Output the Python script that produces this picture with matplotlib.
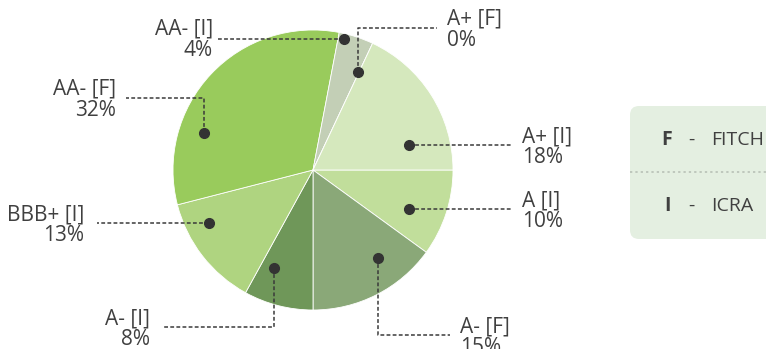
import matplotlib.pyplot as plt
from matplotlib.patches import FancyBboxPatch

W, H = 766, 349

# Slice data, clockwise from 3 o'clock
labels = ["A [I]", "A- [F]", "A- [I]", "BBB+ [I]", "AA- [F]", "AA- [I]", "A+ [F]", "A+ [I]"]
shares = [10, 15, 8, 13, 32, 4, 0, 18]
colors = ["#c1de9b", "#8aa878", "#6f9759", "#afd480", "#99cb5c", "#c3cfb6", "#c3cfb6", "#d5e8bd"]

legend_keys = ["F", "I"]
legend_names = ["FITCH", "ICRA"]

# Leader layout (pixel coords, y down): path from the dot outwards, then text anchor
leaders = {
    "A+ [I]":   ([(409, 145), (512, 145)], (522, 147), "left"),
    "A [I]":    ([(409, 209), (512, 209)], (522, 211), "left"),
    "A- [F]":   ([(378, 258), (378, 335), (450, 335)], (460, 337), "left"),
    "A- [I]":   ([(274, 268), (274, 327), (162, 327)], (150, 329), "right"),
    "BBB+ [I]": ([(209, 223), (97, 223)], (84, 225), "right"),
    "AA- [F]":  ([(204, 133), (204, 98), (126, 98)], (116, 100), "right"),
    "AA- [I]":  ([(344, 39), (218, 39)], (213, 40), "right"),
    "A+ [F]":   ([(358, 72), (358, 28), (437, 28)], (447, 30), "left"),
}

TXT = "#404040"
plt.rcParams["font.family"] = ["Open Sans", "DejaVu Sans"]

fig = plt.figure(figsize=(W / 100, H / 100), dpi=100)
ax = fig.add_axes([0, 0, 1, 1])

# y axis is inverted below, so counterclock in data reads clockwise on screen
ax.pie(shares, colors=colors, center=(313, 170), radius=140, startangle=0,
       counterclock=True, wedgeprops=dict(edgecolor="white", linewidth=0.6))

for lab, share in zip(labels, shares):
    path, (tx, ty), ha = leaders[lab]
    xs = [p[0] for p in path]
    ys = [p[1] for p in path]
    ax.plot(xs, ys, color="#3a3a3a", lw=1.1, ls=(0, (2.5, 1.5)), zorder=5)
    ax.plot(xs[0], ys[0], "o", ms=7, color="#333333", zorder=6)
    ax.text(tx, ty, f"{lab}\n{share}%", ha=ha, va="center", fontsize=15,
            color=TXT, linespacing=1.0, multialignment=ha)

# legend box (runs off the right edge)
box = FancyBboxPatch((630, 106), 200, 133, boxstyle="round,pad=0,rounding_size=9",
                     facecolor="#e4efe1", edgecolor="none", zorder=1)
ax.add_patch(box)
ax.plot([630, 766], [172, 172], color="#b5bdb3", lw=1.1, ls=(0, (1.5, 2)), zorder=2)
for i, (k, name) in enumerate(zip(legend_keys, legend_names)):
    y = 140 + i * 66
    ax.text(667, y, k, ha="center", va="center", fontsize=14, fontweight="bold", color=TXT)
    ax.text(691, y, "-", ha="center", va="center", fontsize=14, color=TXT)
    ax.text(711, y, name, ha="left", va="center", fontsize=14, color=TXT)

ax.set_xlim(0, W)
ax.set_ylim(H, 0)
ax.set_aspect("auto")
ax.axis("off")

fig.savefig("out.png", dpi=100)
